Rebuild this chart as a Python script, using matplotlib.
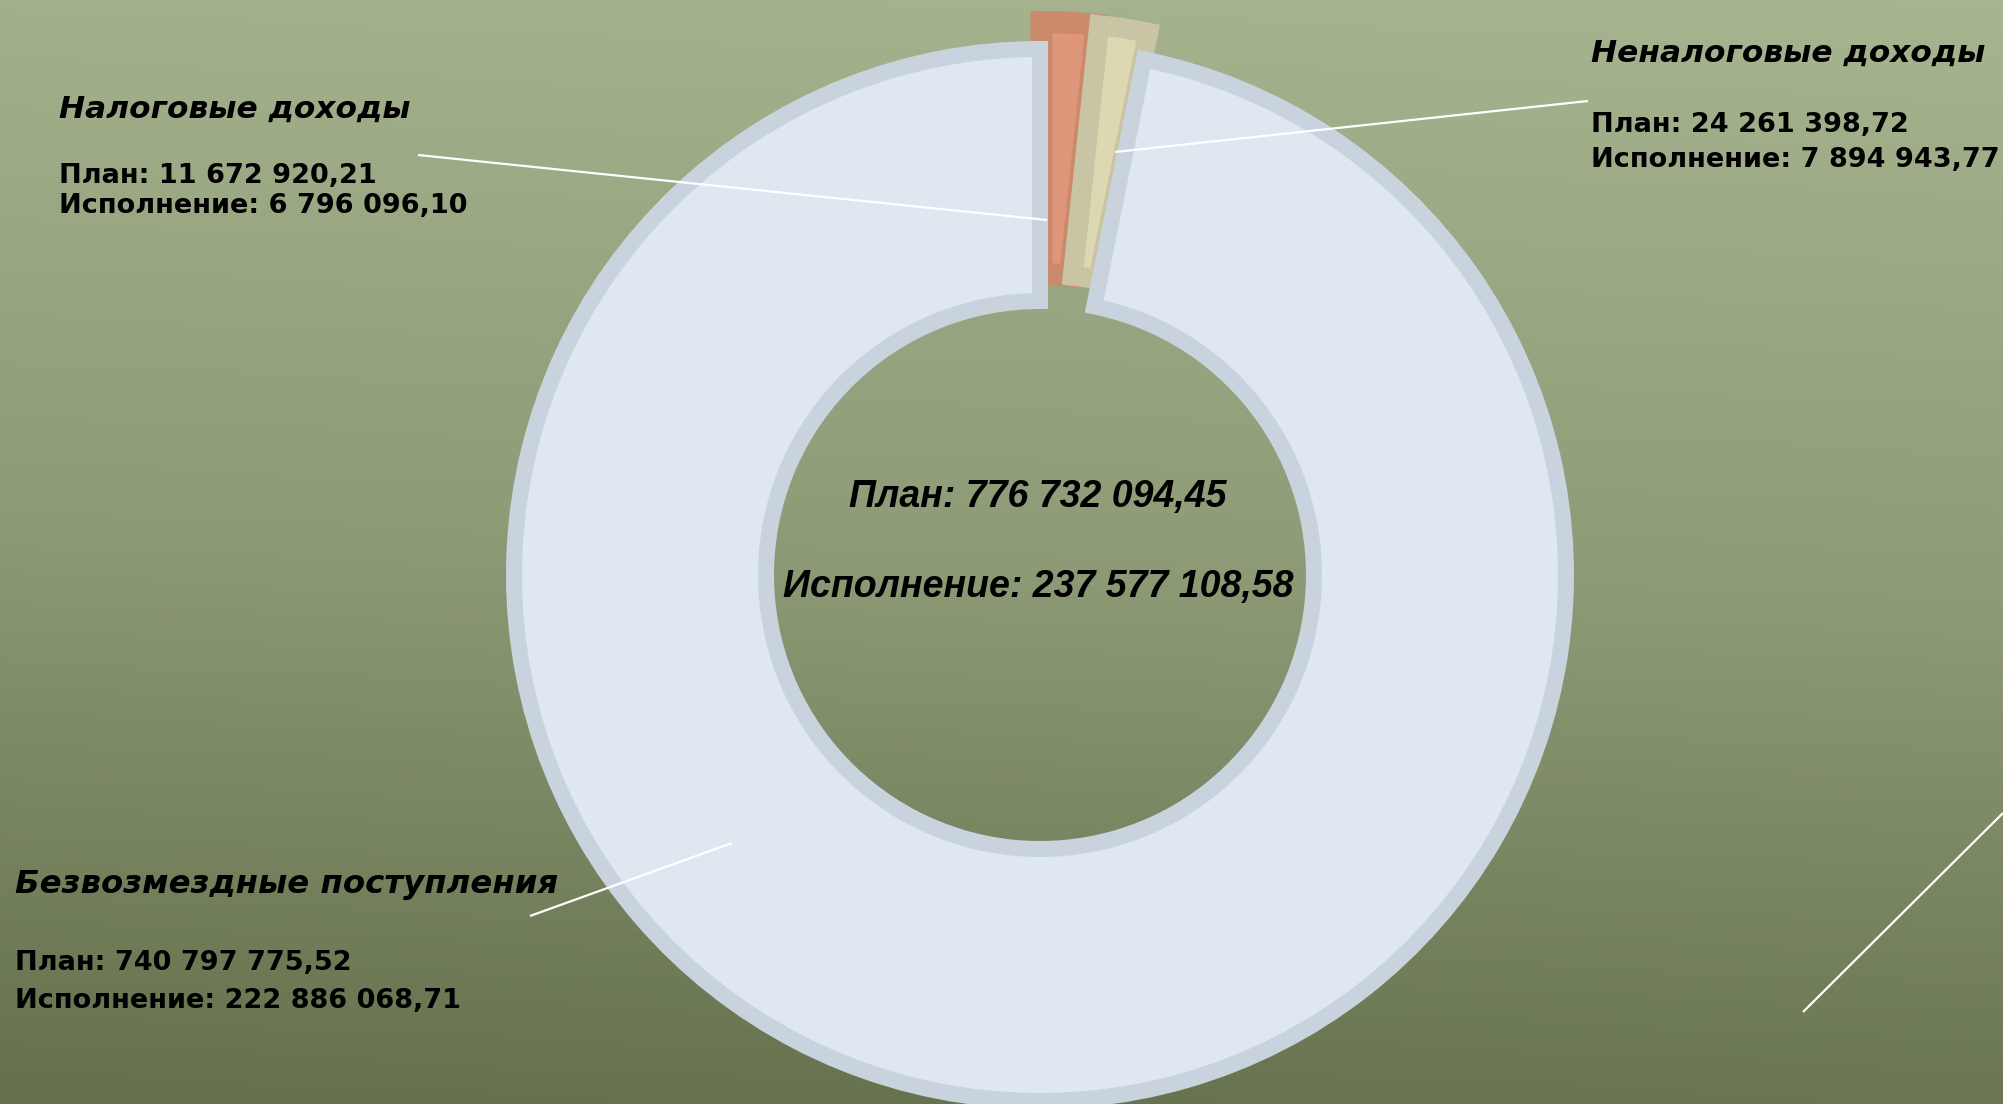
import numpy as np
import matplotlib.pyplot as plt
from matplotlib.colors import LinearSegmentedColormap

# slices in drawing order (clockwise from the top): tax, non-tax, gratuitous
categories = ["Налоговые доходы", "Неналоговые доходы", "Безвозмездные поступления"]
slice_share = [1.67, 1.50, 96.83]          # share of the ring as drawn, %
plan = ["11 672 920,21", "24 261 398,72", "740 797 775,52"]
done = ["6 796 096,10", "7 894 943,77", "222 886 068,71"]
total_plan = "776 732 094,45"
total_done = "237 577 108,58"

fill_colors = ["#E0967A", "#DCD8B2", "#DFE8F1"]
edge_colors = ["#CC8A6D", "#C8C4A4", "#C8D3DD"]

W, H = 2003, 1104
fig = plt.figure(figsize=(W / 100, H / 100), dpi=100)

# background gradient
bg = fig.add_axes([0, 0, 1, 1])
cmap = LinearSegmentedColormap.from_list("bg", ["#A6B48F", "#8E9B77", "#63704B"])
yy, xx = np.mgrid[0:1:200j, 0:1:200j]
grad = yy * 0.95 - xx * 0.08
bg.imshow(grad, cmap=cmap, aspect="auto", extent=[0, 1, 0, 1], origin="upper")
bg.axis("off")

ax = fig.add_axes([0, 0, 1, 1])
ax.patch.set_alpha(0)


def Y(py):
    return H - py


cx, cy, R = 1040, Y(575), 526
wedges, _ = ax.pie(slice_share, startangle=90, counterclock=False,
                   center=(cx, cy), radius=R, explode=[27, 27, 0],
                   colors=fill_colors, frame=True,
                   wedgeprops=dict(width=252, linewidth=0))
ax.set_xlim(0, W)
ax.set_ylim(0, H)
ax.axis("off")
border_px = [11, 10, 8]
for w, ec, b in zip(wedges, edge_colors, border_px):
    w.set_edgecolor(ec)
    w.set_linewidth(2 * b * 72 / 100)
    w.set_joinstyle("miter")
    w.set_clip_path(w)

# leader lines
lines = [((418, 155), (1047, 220)),
         ((1588, 101), (1115, 152)),
         ((530, 916), (732, 843)),
         ((1803, 1012), (2003, 813))]
for (x1, y1), (x2, y2) in lines:
    ax.plot([x1, x2], [Y(y1), Y(y2)], color="white", lw=1.6, solid_capstyle="butt")

fam = ["DejaVu Sans"]
center_fam = ["Liberation Sans", "DejaVu Sans"]
head = dict(family=fam, fontsize=22.5, fontweight="bold", style="italic",
            va="baseline", ha="left")
body = dict(family=fam, fontsize=19.5, fontweight="bold", va="baseline", ha="left")

# tax
ax.text(59, Y(118), categories[0], **head)
ax.text(59, Y(183), "План: " + plan[0], **body)
ax.text(59, Y(213), "Исполнение: " + done[0], **body)

# non-tax
ax.text(1591, Y(62), categories[1], **head)
ax.text(1591, Y(132), "План: " + plan[1], **body)
ax.text(1591, Y(167), "Исполнение: " + done[1], **body)

# gratuitous
ax.text(15, Y(893), categories[2], **{**head, "fontsize": 23.3})
ax.text(15, Y(970), "План: " + plan[2], **body)
ax.text(15, Y(1008), "Исполнение: " + done[2], **body)

# totals in the hole
ax.text(1038, Y(507), "План: " + total_plan, family=center_fam, fontsize=27,
        fontweight="bold", style="italic", va="baseline", ha="center")
ax.text(1038, Y(597), "Исполнение: " + total_done, family=center_fam, fontsize=27,
        fontweight="bold", style="italic", va="baseline", ha="center")

fig.savefig("out.png", dpi=100)
